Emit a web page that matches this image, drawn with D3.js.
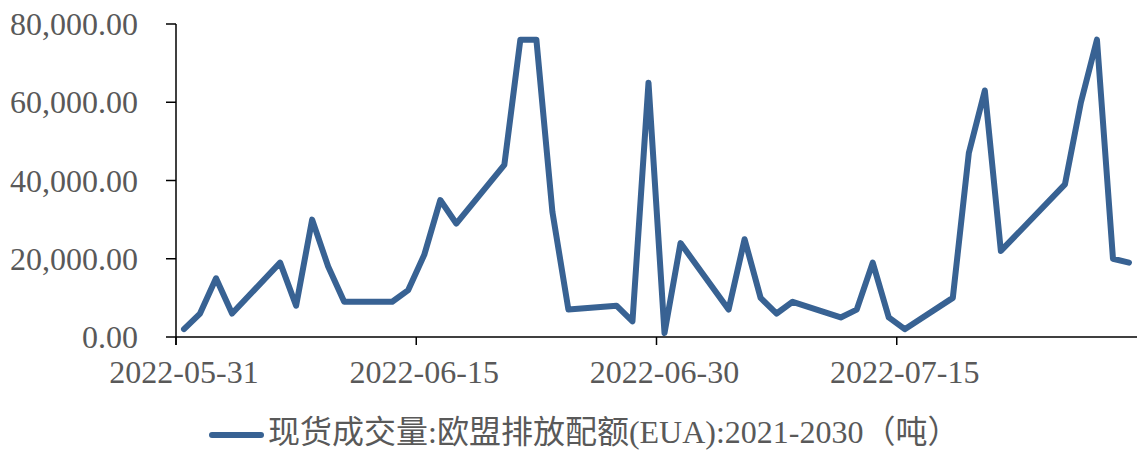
<!DOCTYPE html>
<html>
<head>
<meta charset="utf-8">
<script src="https://cdn.jsdelivr.net/npm/d3@7"></script>
<style>
    body { margin: 0; background: #fff; }
    svg { display: block; }
    .lbl { font-family: "Liberation Serif", "Noto Sans CJK SC", serif; fill: #595959; }
</style>
</head>
<body>
<div id="chart"></div>
<script>
// trading days and volumes (tonnes)
var dates = [
    '2022-05-31', '2022-06-01', '2022-06-02', '2022-06-03', '2022-06-06',
    '2022-06-07', '2022-06-08', '2022-06-09', '2022-06-10', '2022-06-13',
    '2022-06-14', '2022-06-15', '2022-06-16', '2022-06-17', '2022-06-20',
    '2022-06-21', '2022-06-22', '2022-06-23', '2022-06-24', '2022-06-27',
    '2022-06-28', '2022-06-29', '2022-06-30', '2022-07-01', '2022-07-04',
    '2022-07-05', '2022-07-06', '2022-07-07', '2022-07-08', '2022-07-11',
    '2022-07-12', '2022-07-13', '2022-07-14', '2022-07-15', '2022-07-18',
    '2022-07-19', '2022-07-20', '2022-07-21', '2022-07-25', '2022-07-26',
    '2022-07-27', '2022-07-28', '2022-07-29',
];
var volumes = [
    2000, 6000, 15000, 6000, 19000,
    8000, 30000, 18000, 9000, 9000,
    12000, 21000, 35000, 29000, 44000,
    76000, 76000, 32000, 7000, 8000,
    4000, 65000, 1000, 24000, 7000,
    25000, 10000, 6000, 9000, 5000,
    7000, 19000, 5000, 2000, 10000,
    47000, 63000, 22000, 39000, 60000,
    76000, 20000, 19000,
];
var xTicks = ['2022-05-31', '2022-06-15', '2022-06-30', '2022-07-15'];
var yTicks = [0, 20000, 40000, 60000, 80000];
var seriesName = '现货成交量:欧盟排放配额(EUA):2021-2030（吨）';

var width = 1137, height = 450;
var color = '#386293';
var parse = d3.utcParse('%Y-%m-%d');
var halfDay = 12 * 3600 * 1000;

var data = dates.map(function(d, i) {
    return { date: parse(d), value: volumes[i] };
});

var svg = d3.select('#chart').append('svg')
    .attr('width', width)
    .attr('height', height);

// date axis: each day is a slot, point sits in the middle of it
var x = d3.scaleUtc()
    .domain([parse('2022-05-31'), parse('2022-07-30')])
    .range([176, 1137]);

var y = d3.scaleLinear()
    .domain([0, 80000])
    .range([337, 24]);

var fmt = d3.format(',.2f');

// y axis
var yAxis = svg.append('g').attr('transform', 'translate(176,0)');
yAxis.append('line')
    .attr('y1', y(80000)).attr('y2', y(0) + 8)
    .attr('stroke', '#000').attr('stroke-width', 1.5);
yAxis.selectAll('line.tick').data(yTicks).enter().append('line')
    .attr('class', 'tick')
    .attr('x1', -10).attr('x2', 0)
    .attr('y1', y).attr('y2', y)
    .attr('stroke', '#000').attr('stroke-width', 1.5);
yAxis.selectAll('text').data(yTicks).enter().append('text')
    .attr('class', 'lbl')
    .attr('x', -38)
    .attr('y', y)
    .attr('dy', '0.35em')
    .attr('text-anchor', 'end')
    .style('font-size', '32px')
    .text(fmt);

// x axis
var xAxis = svg.append('g');
xAxis.append('line')
    .attr('x1', 176).attr('x2', 1137)
    .attr('y1', y(0)).attr('y2', y(0))
    .attr('stroke', '#000').attr('stroke-width', 1.5);
xAxis.selectAll('line.tick').data(xTicks).enter().append('line')
    .attr('class', 'tick')
    .attr('x1', function(d) { return x(parse(d)); })
    .attr('x2', function(d) { return x(parse(d)); })
    .attr('y1', y(0)).attr('y2', y(0) + 8)
    .attr('stroke', '#000').attr('stroke-width', 1.5);
xAxis.selectAll('text').data(xTicks).enter().append('text')
    .attr('class', 'lbl')
    .attr('x', function(d) { return x(new Date(parse(d).getTime() + halfDay)); })
    .attr('y', 383)
    .attr('text-anchor', 'middle')
    .style('font-size', '32px')
    .text(function(d) { return d; });

// the series
var line = d3.line()
    .x(function(d) { return x(new Date(d.date.getTime() + halfDay)); })
    .y(function(d) { return y(d.value); });

svg.append('path')
    .datum(data)
    .attr('d', line)
    .attr('fill', 'none')
    .attr('stroke', color)
    .attr('stroke-width', 6)
    .attr('stroke-linejoin', 'round')
    .attr('stroke-linecap', 'round');

// legend
var legend = svg.append('g');
legend.append('line')
    .attr('x1', 212).attr('x2', 261)
    .attr('y1', 435).attr('y2', 435)
    .attr('stroke', color)
    .attr('stroke-width', 6)
    .attr('stroke-linecap', 'round');
legend.append('text')
    .attr('class', 'lbl')
    .attr('x', 268)
    .attr('y', 443)
    .style('font-size', '32px')
    .text(seriesName);
</script>
</body>
</html>
